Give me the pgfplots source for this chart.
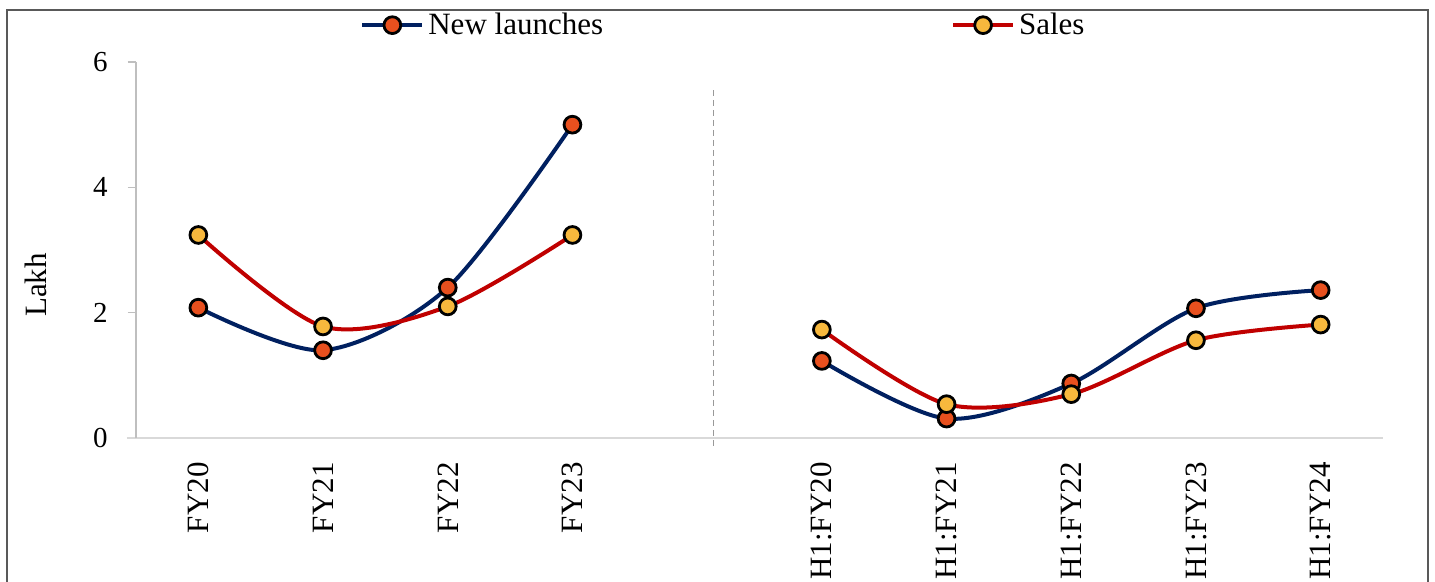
\documentclass[border=0pt]{standalone}
\usepackage{fontspec}
\setmainfont{Liberation Serif}
\usepackage{pgfplots}
\pgfplotsset{compat=1.18}

\definecolor{navyline}{HTML}{002060}
\definecolor{redline}{HTML}{C00000}
\definecolor{nlfill}{HTML}{E8501E}
\definecolor{salesfill}{HTML}{F7B83D}
\definecolor{framegray}{HTML}{595959}
\definecolor{axisgray}{HTML}{BFBFBF}
\definecolor{basegray}{HTML}{D9D9D9}

\newcommand{\bigfont}{\fontsize{15.5}{18}\selectfont}
\newcommand{\tickfont}{\fontsize{14.5}{17}\selectfont}

\pgfplotsset{
  nl/.style={navyline, line width=2pt, smooth, mark=*,
    mark options={solid, fill=nlfill, draw=black, line width=1.4pt}, mark size=4.2pt},
  sl/.style={redline, line width=2pt, smooth, mark=*,
    mark options={solid, fill=salesfill, draw=black, line width=1.4pt}, mark size=4.2pt},
}

\begin{document}
\begin{tikzpicture}
\clip (0pt,0pt) rectangle (717.5pt,-291pt);
\fill[white] (0pt,0pt) rectangle (717.5pt,-291pt);
\draw[framegray, line width=1.1pt] (3.5pt,-5pt) rectangle (714pt,-330pt);

\begin{axis}[
  at={(68pt,-219pt)}, anchor=south west,
  scale only axis, width=623.5pt, height=188pt,
  xmin=-0.5, xmax=9.5, ymin=0, ymax=6,
  clip=false,
  axis x line*=bottom, axis y line*=left,
  x axis line style={draw=basegray, line width=1.4pt, shorten <=-4.5pt},
  y axis line style={draw=axisgray, line width=0.6pt},
  xtick={0,1,2,3,5,6,7,8,9},
  xticklabels={FY20,FY21,FY22,FY23,H1:FY20,H1:FY21,H1:FY22,H1:FY23,H1:FY24},
  xtick style={draw=none},
  ytick={0,2,4,6},
  ytick style={draw=axisgray, line width=0.6pt},
  tick align=outside, major tick length=4pt,
  /pgf/number format/assume math mode=true,
  xticklabel style={font=\bigfont, yshift=-8pt, rotate=90, anchor=east, inner sep=0pt},
  yticklabel style={font=\tickfont, anchor=east, inner sep=0pt, xshift=-10pt},
  legend columns=2,
  legend style={at={(0.1796,1.098)}, anchor=west, draw=none, fill=none,
    inner sep=0pt, font=\bigfont, nodes={inner sep=2pt},
    /tikz/every even column/.append style={column sep=172pt}},
  legend image code/.code={\draw[mark repeat=2, mark phase=2, #1]
    plot coordinates {(0pt,0pt) (15pt,0pt) (30pt,0pt)};},
]

% full years
\addplot[nl] coordinates {(0,2.08) (1,1.40) (2,2.40) (3,5.00)};
\addlegendentry{New launches}
\addplot[sl] coordinates {(0,3.24) (1,1.78) (2,2.10) (3,3.24)};
\addlegendentry{Sales}

% first halves
\addplot[nl, forget plot] coordinates {(5,1.23) (6,0.31) (7,0.87) (8,2.07) (9,2.36)};
\addplot[sl, forget plot] coordinates {(5,1.73) (6,0.54) (7,0.70) (8,1.56) (9,1.81)};

% separator between the two groups
\draw[gray!80, line width=0.6pt, dash pattern=on 3pt off 2pt]
  (axis cs:4.13,5.55) -- (axis cs:4.13,-0.12);
\end{axis}

\node[rotate=90, font=\bigfont] at (18pt,-142.5pt) {Lakh};
\end{tikzpicture}
\end{document}
